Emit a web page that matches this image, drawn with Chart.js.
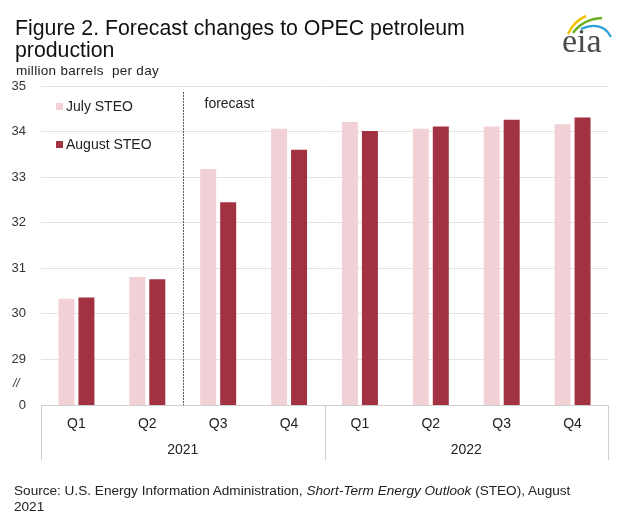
<!DOCTYPE html>
<html>
<head>
<meta charset="utf-8">
<script src="https://cdn.jsdelivr.net/npm/chart.js@4.4.0/dist/chart.umd.min.js"></script>
<style>
  body { margin: 0; background: #fff; }
  #wrap { position: relative; width: 626px; height: 521px; font-family: "Liberation Sans", Arial, sans-serif; color: #1a1a1a; }
  #title { position: absolute; left: 15px; top: 17px; font-size: 21.3px; line-height: 22px; color: #111; }
  #sub { position: absolute; left: 16px; top: 63px; font-size: 13.5px; letter-spacing: 0.3px; color: #222; }
  #source { position: absolute; left: 14px; top: 483px; font-size: 13.6px; line-height: 16px; color: #222; }
  #logo { position: absolute; left: 556px; top: 10px; }
  canvas { position: absolute; left: 0; top: 0; }
</style>
</head>
<body>
<div id="wrap">
  <canvas id="myChart" width="626" height="521"></canvas>
  <div id="title">Figure 2. Forecast changes to OPEC petroleum<br>production</div>
  <div id="sub">million barrels&nbsp; per day</div>
  <div id="source">Source: U.S. Energy Information Administration, <i>Short-Term Energy Outlook</i> (STEO), August<br>2021</div>
  <svg id="logo" width="60" height="50" viewBox="0 0 60 50">
    <path d="M12 24 Q18 11 30 6" stroke="#f2c200" stroke-width="2.5" fill="none"/>
    <path d="M17 23 Q27 9 46 8" stroke="#6ab023" stroke-width="2.5" fill="none"/>
    <path d="M25 19 Q46 10 55 27" stroke="#2a9fd8" stroke-width="2.2" fill="none"/>
    <text x="6" y="42" font-family="Liberation Serif, DejaVu Serif, serif" font-size="34" fill="#4a4a4a">eia</text>
  </svg>
</div>
<script>
// quarters and years
const quarters = ['Q1', 'Q2', 'Q3', 'Q4', 'Q1', 'Q2', 'Q3', 'Q4']
const years = ['2021', '2022']
// million barrels per day
const julySTEO = [30.33, 30.81, 33.18, 34.06, 34.21, 34.06, 34.11, 34.16]
const augustSTEO = [30.36, 30.76, 32.45, 33.60, 34.01, 34.11, 34.26, 34.31]
const seriesNames = ['July STEO', 'August STEO']
const yTicks = [28, 29, 30, 31, 32, 33, 34, 35]

const FONT = '"Liberation Sans", Arial, sans-serif'

const extras = {
  id: 'extras',
  afterDraw(chart) {
    const ctx = chart.ctx
    const x = chart.scales.x
    const y = chart.scales.y
    const area = chart.chartArea
    ctx.save()

    // separators under the axis
    ctx.strokeStyle = '#d0d0d0'
    ctx.lineWidth = 1
    const xs = [area.left, (x.getPixelForValue(3) + x.getPixelForValue(4)) / 2, area.right]
    xs.forEach(px => {
      ctx.beginPath()
      ctx.moveTo(Math.round(px) + 0.5, area.bottom)
      ctx.lineTo(Math.round(px) + 0.5, area.bottom + 55)
      ctx.stroke()
    })

    // forecast line
    const fx = Math.round((x.getPixelForValue(1) + x.getPixelForValue(2)) / 2) + 0.5
    ctx.strokeStyle = '#555'
    ctx.setLineDash([2, 1])
    ctx.beginPath()
    ctx.moveTo(fx, y.getPixelForValue(34.87))
    ctx.lineTo(fx, area.bottom)
    ctx.stroke()
    ctx.setLineDash([])

    ctx.font = '14px ' + FONT
    ctx.fillStyle = '#222'
    ctx.textBaseline = 'middle'
    ctx.fillText('forecast', fx + 21, 104)

    // legend
    const ds = chart.data.datasets
    ds.forEach((d, i) => {
      const ly = 107 + i * 38
      ctx.fillStyle = d.backgroundColor
      ctx.fillRect(56, ly - 4, 7, 7)
      ctx.fillStyle = '#222'
      ctx.fillText(d.label, 66, ly)
    })

    // axis break mark
    ctx.font = 'italic 12px ' + FONT
    ctx.fillStyle = '#333'
    ctx.fillText('//', 13, 384)
    ctx.restore()
  }
}

const ctx = document.getElementById('myChart').getContext('2d')
const myChart = new Chart(ctx, {
  type: 'bar',
  data: {
    labels: quarters,
    datasets: [
      { label: seriesNames[0], data: julySTEO, backgroundColor: '#f2d1d6' },
      { label: seriesNames[1], data: augustSTEO, backgroundColor: '#a23141' }
    ]
  },
  options: {
    responsive: false,
    animation: false,
    categoryPercentage: 0.564,
    barPercentage: 0.8,
    layout: { padding: { left: 0, top: 86, right: 18, bottom: 60 } },
    plugins: { legend: { display: false }, tooltip: { enabled: false } },
    scales: {
      x: {
        grid: { display: false },
        border: { color: '#cfcfcf' },
        ticks: { font: { family: FONT, size: 14 }, color: '#222', padding: 3 },
        afterFit: s => { s.height = 26 }
      },
      x2: {
        type: 'category',
        labels: years,
        position: 'bottom',
        offset: true,
        grid: { display: false },
        border: { display: false },
        ticks: { font: { family: FONT, size: 14 }, color: '#222', padding: 3 },
        afterFit: s => { s.height = 30 }
      },
      y: {
        min: 28,
        max: 35,
        afterBuildTicks: s => { s.ticks = yTicks.map(v => ({ value: v })) },
        border: { display: false },
        grid: {
          drawTicks: false,
          color: c => c.tick && c.tick.value === 28 ? 'rgba(0,0,0,0)' : '#e3e3e3'
        },
        ticks: {
          font: { family: FONT, size: 13 },
          color: '#333',
          padding: 15,
          callback: v => v === 28 ? '0' : v
        },
        afterFit: s => { s.width = 41 }
      }
    }
  },
  plugins: [extras]
})
</script>
</body>
</html>
